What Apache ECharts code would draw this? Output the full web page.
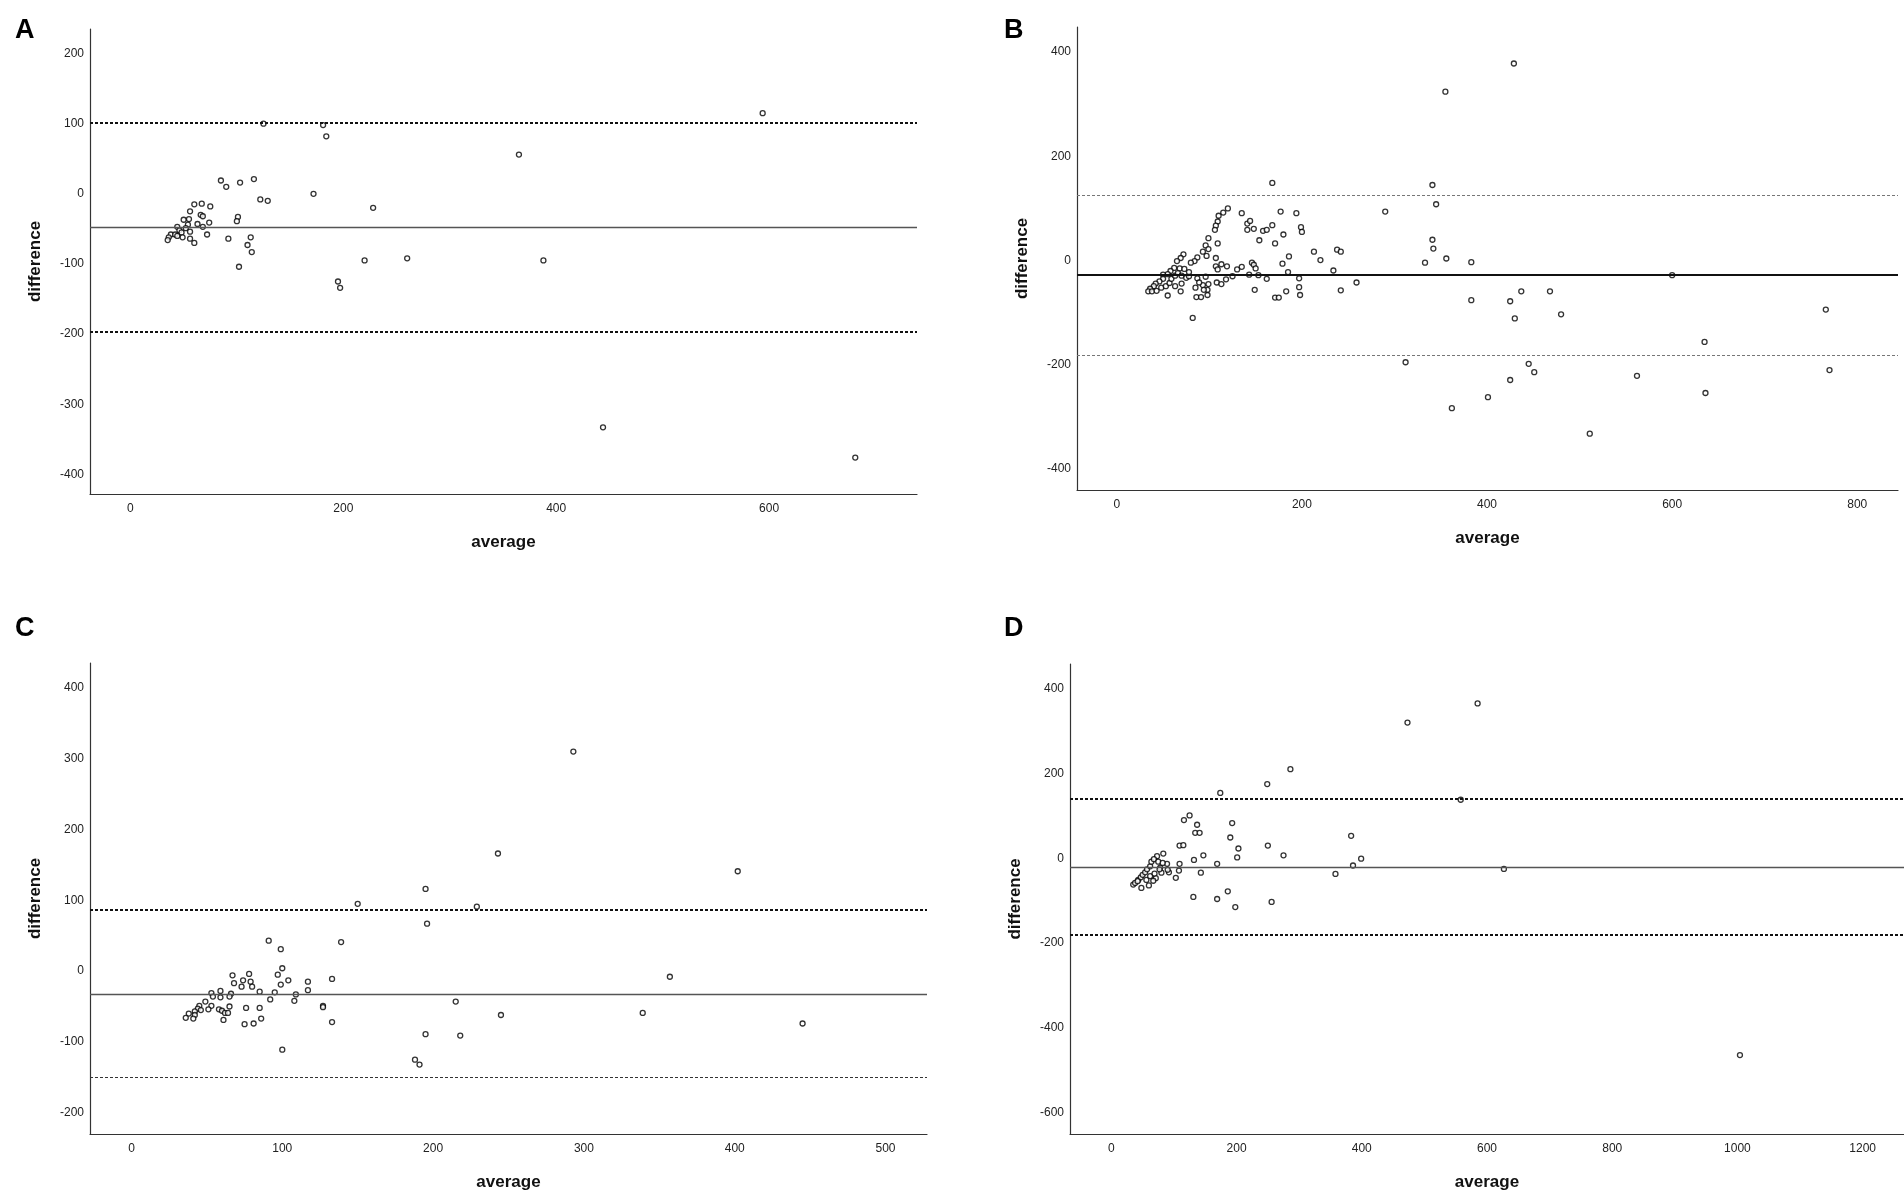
<!DOCTYPE html>
<html>
<head>
<meta charset="utf-8">
<title>Bland-Altman plots</title>
<script src="https://cdn.jsdelivr.net/npm/echarts@6/dist/echarts.min.js"></script>
<style>
  html, body { margin: 0; padding: 0; background: #fff; }
  #chart { width: 1904px; height: 1192px; }
</style>
</head>
<body>
<div id="chart"></div>
<script>
// Panel A
const aAverage = [594, 125, 181, 184, 365, 85, 90, 103, 116, 172, 122, 129, 228, 60, 67, 75, 56, 66, 68, 50, 55, 101, 100,
    74, 63, 54, 44, 68, 52, 46, 56, 48, 38, 42, 72, 49, 44, 36, 56, 35, 60, 92, 113, 110, 114, 102, 220, 260, 388, 195, 197, 444, 681];
const aDifference = [115, 100, 98, 82, 56, 19, 10, 16, 21, 0, -8, -10, -20, -15, -14, -18, -25, -30, -32, -37, -36, -33, -39,
    -41, -43, -44, -47, -47, -49, -52, -54, -55, -58, -58, -58, -62, -60, -62, -64, -66, -70, -64, -62, -73, -83, -104, -95, -92, -95, -125, -134, -333, -376];
const aLines = [101, -47, -196]; // upper limit, mean, lower limit

// Panel B
const bAverage = [429, 355, 341, 345, 290, 341, 342, 356, 333, 383, 600, 383, 425, 437, 468, 480, 430, 766, 635, 312, 445, 451, 770, 562, 425, 636, 401, 362, 511,
    168, 120, 115, 110, 109, 107, 106, 99, 109, 96, 93, 99, 97, 87, 84, 80, 72, 69, 65, 62, 68, 73, 58, 55, 50, 50, 46, 42, 40, 36, 34, 38, 43, 48, 53, 57, 59, 63, 66,
    70, 75, 78, 78, 87, 96, 99, 98, 93, 89, 85, 70, 63, 55, 69, 94, 86, 91, 98, 82, 107, 107, 113, 109, 119, 108, 113, 118, 125, 130, 135,
    135, 141, 144, 141, 148, 154, 158, 162, 168, 146, 148, 150, 143, 153, 162, 149, 171, 175, 171, 177, 180, 179, 186, 185, 183, 194, 199, 200, 197, 197, 198,
    213, 220, 238, 242, 234, 242, 259];
const bDifference = [378, 324, 145, 108, 94, 40, 23, 4, -4, -3, -28, -76, -78, -59, -59, -103, -111, -94, -156, -195, -198, -214, -210, -221, -229, -254, -262, -283, -332,
    149, 100, 92, 86, 75, 67, 59, 43, 33, 29, 17, 22, 9, 6, -1, -4, 12, 5, -1, -14, -15, -16, -20, -26, -27, -35, -40, -44, -49, -54, -59, -59, -58, -52, -49, -43, -35, -29, -24,
    -29, -33, -30, -22, -34, -31, -45, -56, -47, -42, -52, -44, -49, -67, -59, -56, -70, -70, -66, -110, 5, -11, -7, -17, -11, -42, -45, -36, -30, -17, -12,
    91, 71, 76, 59, 61, 39, 57, 59, 68, -4, -8, -15, -27, -28, -35, -56, -71, -71, 33, 94, 50, -6, 8, -22, -59, 91, 64, 55, -34, -51, -66,
    17, 1, 21, 17, -19, -57, -42];
const bLines = [126, -27, -182];

// Panel C
const cAverage = [293, 243, 402, 195, 150, 229, 196, 91, 139, 99, 100, 97, 104, 99, 133, 117, 117, 109, 108, 95, 92, 85, 78, 79, 80, 74, 73, 67, 68, 66, 65,
    59, 59, 53, 54, 49, 53, 65, 76, 85, 58, 60, 51, 45, 44, 42, 38, 36, 42, 41, 46, 62, 64, 61, 75, 81, 86, 127, 127, 133, 100, 215, 245, 339, 357, 445, 195, 218, 188, 191];
const cDifference = [310, 166, 141, 116, 95, 91, 67, 43, 41, 31, 4, -5, -13, -19, -11, -15, -27, -33, -42, -30, -40, -29, -4, -15, -22, -13, -22, -6, -17, -32, -36,
    -28, -37, -31, -36, -43, -49, -50, -52, -52, -54, -56, -54, -49, -53, -57, -60, -66, -62, -67, -55, -59, -59, -69, -75, -74, -67, -49, -51, -72, -111, -43, -62, -59, -8, -74, -89, -91, -125, -132];
const cLines = [87, -32, -150];

// Panel D
const dAverage = [585, 473, 286, 249, 174, 558, 125, 116, 137, 193, 134, 141, 190, 383, 109, 115, 250, 203, 147, 201, 275, 399, 132, 83, 73,
    109, 108, 92, 89, 103, 143, 169, 386, 358, 627, 131, 169, 186, 198, 256, 1004,
    35, 38, 43, 47, 50, 54, 57, 62, 64, 68, 75, 78, 80, 71, 67, 60, 48, 42, 56, 62, 69, 77, 82, 90];
const dDifference = [365, 320, 210, 175, 154, 138, 101, 90, 79, 83, 60, 60, 49, 53, 30, 31, 30, 23, 7, 2, 7, -1, -4, 11, 5,
    -13, -29, -33, -13, -46, -34, -13, -17, -37, -25, -91, -96, -78, -115, -103, -464,
    -62, -58, -51, -45, -39, -33, -26, -19, -8, -2, -8, -22, -34, -47, -53, -64, -70, -54, -51, -42, -36, -26, -11, -27];
const dLines = [141, -20, -181];

// Axis ranges and tick labels
const aXTicks = [0, 200, 400, 600];
const aYTicks = [-400, -300, -200, -100, 0, 100, 200];
const bXTicks = [0, 200, 400, 600, 800];
const bYTicks = [-400, -200, 0, 200, 400];
const cXTicks = [0, 100, 200, 300, 400, 500];
const cYTicks = [-200, -100, 0, 100, 200, 300, 400];
const dXTicks = [0, 200, 400, 600, 800, 1000, 1200];
const dYTicks = [-600, -400, -200, 0, 200, 400];

const tickFont = "'Liberation Sans Narrow', 'Liberation Sans', Arial, sans-serif";
const titleFont = "'Liberation Sans', Arial, sans-serif";

const panels = [
    { letter: 'A', avg: aAverage, diff: aDifference, lines: aLines, xTicks: aXTicks, yTicks: aYTicks,
      xMin: -38, xMax: 739, yMin: -428, yMax: 235,
      grid: { left: 90, top: 29, width: 827, height: 465 }, letterPos: [10, 12],
      limitStyle: [{ color: '#111', width: 2.2 }, { color: '#111', width: 2.2 }], meanStyle: { color: '#555', width: 1.4 } },
    { letter: 'B', avg: bAverage, diff: bDifference, lines: bLines, xTicks: bXTicks, yTicks: bYTicks,
      xMin: -43, xMax: 844, yMin: -440, yMax: 448,
      grid: { left: 1077, top: 27, width: 821, height: 463 }, letterPos: [999, 12],
      limitStyle: [{ color: '#777', width: 1.2 }, { color: '#777', width: 1.2 }], meanStyle: { color: '#111', width: 2 } },
    { letter: 'C', avg: cAverage, diff: cDifference, lines: cLines, xTicks: cXTicks, yTicks: cYTicks,
      xMin: -27.5, xMax: 527.5, yMin: -230, yMax: 435,
      grid: { left: 90, top: 663, width: 837, height: 473 }, letterPos: [10, 610],
      limitStyle: [{ color: '#111', width: 1.8 }, { color: '#333', width: 1.2 }], meanStyle: { color: '#555', width: 1.4 } },
    { letter: 'D', avg: dAverage, diff: dDifference, lines: dLines, xTicks: dXTicks, yTicks: dYTicks,
      xMin: -66, xMax: 1266, yMin: -650, yMax: 458,
      grid: { left: 1070, top: 664, width: 834, height: 470 }, letterPos: [999, 610],
      limitStyle: [{ color: '#111', width: 2.2 }, { color: '#111', width: 2.2 }], meanStyle: { color: '#555', width: 1.4 } }
];

const option = {
    backgroundColor: '#fff',
    animation: false,
    title: [],
    grid: [],
    xAxis: [],
    yAxis: [],
    series: []
};

// plain numbers, no thousands separator
const plainLabel = v => String(v);

panels.forEach((p, i) => {
    option.title.push({
        text: p.letter, left: p.letterPos[0], top: p.letterPos[1],
        textStyle: { fontFamily: titleFont, fontSize: 27, fontWeight: 'bold', color: '#000' }
    });
    option.grid.push(p.grid);
    option.xAxis.push({
        type: 'value', gridIndex: i, min: p.xMin, max: p.xMax,
        name: 'average', nameLocation: 'middle', nameGap: 40,
        nameTextStyle: { fontFamily: titleFont, fontSize: 17, fontWeight: 'bold', color: '#111' },
        axisLine: { show: true, onZero: false, lineStyle: { color: '#333', width: 1.2 } },
        axisTick: { show: false },
        splitLine: { show: false },
        axisLabel: { customValues: p.xTicks, formatter: plainLabel, margin: 9, fontFamily: tickFont, fontSize: 12, color: '#222' }
    });
    option.yAxis.push({
        type: 'value', gridIndex: i, min: p.yMin, max: p.yMax,
        name: 'difference', nameLocation: 'middle', nameGap: 46, nameRotate: 90,
        nameTextStyle: { fontFamily: titleFont, fontSize: 17, fontWeight: 'bold', color: '#111' },
        axisLine: { show: true, onZero: false, lineStyle: { color: '#333', width: 1.2 } },
        axisTick: { show: false },
        splitLine: { show: false },
        axisLabel: { customValues: p.yTicks, formatter: plainLabel, margin: 6, fontFamily: tickFont, fontSize: 12, color: '#222' }
    });
    option.series.push({
        type: 'scatter', xAxisIndex: i, yAxisIndex: i,
        data: p.avg.map((x, k) => [x, p.diff[k]]),
        symbol: 'circle', symbolSize: 5,
        itemStyle: { color: '#fff', borderColor: '#000', borderWidth: 1.3 },
        markLine: {
            silent: true, symbol: 'none', label: { show: false }, animation: false,
            data: [
                { yAxis: p.lines[0], lineStyle: { type: [3, 2], color: p.limitStyle[0].color, width: p.limitStyle[0].width } },
                { yAxis: p.lines[1], lineStyle: { type: 'solid', color: p.meanStyle.color, width: p.meanStyle.width } },
                { yAxis: p.lines[2], lineStyle: { type: [3, 2], color: p.limitStyle[1].color, width: p.limitStyle[1].width } }
            ]
        }
    });
});

const chart = echarts.init(document.getElementById('chart'));
chart.setOption(option);
</script>
</body>
</html>
